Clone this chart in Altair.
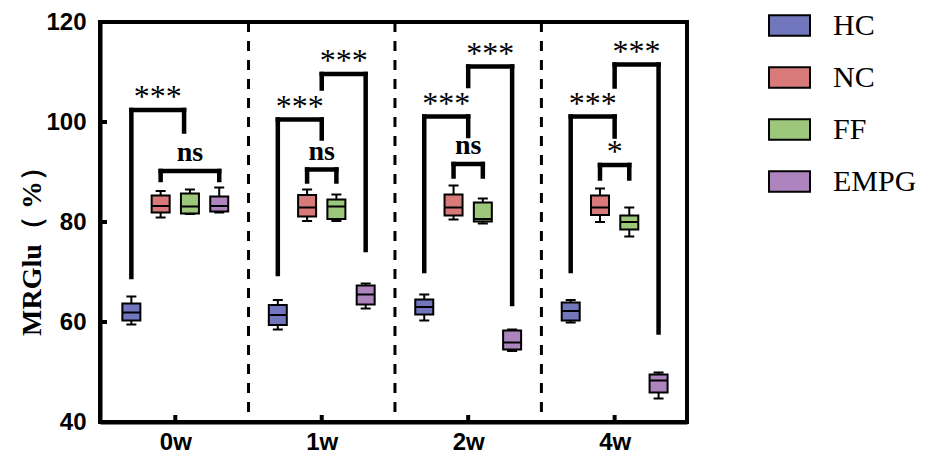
import json
import altair as alt
import pandas as pd

# ---------------- data ----------------
weeks = ["0w", "1w", "2w", "4w"]
groups = ["HC", "NC", "FF", "EMPG"]
colors = ["#7276BC", "#D87A7A", "#9DC77B", "#AD84BE"]
y_ticks = [40, 60, 80, 100, 120]

hc_max = [65.1, 64.4, 65.5, 64.4]
hc_q3 = [63.7, 63.4, 64.5, 63.9]
hc_med = [61.9, 61.4, 63.0, 62.2]
hc_q1 = [60.3, 59.4, 61.5, 60.3]
hc_min = [59.5, 58.5, 60.3, 59.9]

nc_max = [86.2, 86.5, 87.3, 86.7]
nc_q3 = [85.3, 85.4, 85.5, 85.3]
nc_med = [83.2, 82.9, 82.9, 82.9]
nc_q1 = [81.9, 81.1, 81.3, 81.4]
nc_min = [80.9, 80.2, 80.5, 80.0]

ff_max = [86.5, 85.5, 84.7, 82.9]
ff_q3 = [85.7, 84.5, 83.9, 81.3]
ff_med = [83.1, 83.1, 80.6, 80.0]
ff_q1 = [81.7, 80.6, 80.1, 78.5]
ff_min = [81.6, 80.2, 79.7, 77.1]

empg_max = [86.9, 67.7, 58.5, 49.9]
empg_q3 = [85.1, 67.3, 58.3, 49.5]
empg_med = [83.2, 65.5, 55.9, 48.3]
empg_q1 = [82.1, 63.5, 54.5, 45.9]
empg_min = [81.9, 62.7, 54.2, 44.7]

# significance brackets: week, from-series index, to-series index (fractional = between boxes)
br_week = ["0w", "0w", "1w", "1w", "1w", "2w", "2w", "2w", "4w", "4w", "4w"]
br_from = [0, 1, 0, 1.5, 1, 0, 1.5, 1, 0, 1.5, 1]
br_to = [1.8, 3, 1.5, 3, 2, 1.5, 3, 2, 1.5, 3, 2]
br_top = [102.4, 90.2, 100.5, 109.6, 90.5, 101.1, 111.1, 91.6, 101.1, 111.5, 91.4]
br_left_end = [69.0, 88.4, 69.6, 106.7, 88.1, 70.2, 107.2, 89.1, 70.2, 107.1, 88.7]
br_right_end = [98.1, 88.4, 96.7, 74.4, 88.1, 97.2, 63.6, 89.1, 97.1, 57.9, 88.7]
br_label = ["***", "ns", "***", "***", "ns", "***", "***", "ns", "***", "***", "*"]

# ---------------- tables ----------------
stats = {
    "HC": (hc_min, hc_q1, hc_med, hc_q3, hc_max),
    "NC": (nc_min, nc_q1, nc_med, nc_q3, nc_max),
    "FF": (ff_min, ff_q1, ff_med, ff_q3, ff_max),
    "EMPG": (empg_min, empg_q1, empg_med, empg_q3, empg_max),
}
rows = []
for si, g in enumerate(groups):
    mn, q1, md, q3, mx = stats[g]
    for wi, w in enumerate(weeks):
        rows.append(dict(group=g, week=w, wi=wi, si=si, lo=mn[wi], q1=q1[wi],
                         med=md[wi], q3=q3[wi], hi=mx[wi]))
box_df = pd.DataFrame(rows)

br_df = pd.DataFrame(dict(wi=[weeks.index(w) for w in br_week], f=br_from, t=br_to,
                          top=br_top, lend=br_left_end, rend=br_right_end, label=br_label))
week_df = pd.DataFrame(dict(wi=list(range(len(weeks)))))
sep_df = pd.DataFrame(dict(wi=list(range(len(weeks) - 1))))
ytick_df = pd.DataFrame(dict(v=y_ticks))

GROUP_STEP = 5  # slot units between week centres
OFFSET = (len(groups) - 1) / 2

x_scale = alt.Scale(domain=[-2.4, 17.3], nice=False, zero=False)
y_scale = alt.Scale(domain=[40, 120], nice=False, zero=False)

x_axis = alt.Axis(values=[i * GROUP_STEP for i in range(len(weeks))],
                  labelExpr=f"{json.dumps(weeks)}[round(datum.value / {GROUP_STEP})]",
                  title=None, ticks=False, tickSize=0, grid=False,
                  domainWidth=4, domainColor="black",
                  labelFont="Liberation Sans", labelFontWeight="bold",
                  labelFontSize=24, labelColor="black", labelPadding=8)
y_axis = alt.Axis(values=y_ticks, title="MRGlu（ %）",
                  titleFont="Liberation Serif", titleFontWeight="bold", titleFontSize=28,
                  titleColor="black", titleAngle=270, titleX=-60, titleY=222,
                  titleBaseline="alphabetic", titleAlign="center",
                  ticks=False, tickSize=0, grid=False,
                  domainWidth=4, domainColor="black",
                  labelFont="Liberation Sans", labelFontWeight="bold",
                  labelFontSize=24, labelColor="black", labelPadding=14)


def X(field):
    return alt.X(field, type="quantitative", scale=x_scale, axis=x_axis)


def Y(field):
    return alt.Y(field, type="quantitative", scale=y_scale, axis=y_axis)


base = alt.Chart(box_df).transform_calculate(
    pos=f"datum.wi * {GROUP_STEP} + datum.si - {OFFSET}")

whisk = base.mark_rule(color="black", strokeWidth=2).encode(x=X("pos"), y=Y("lo"), y2="hi")
box = base.mark_bar(size=18, stroke="black", strokeWidth=2, opacity=1).encode(
    x=X("pos"), y=Y("q1"), y2="q3",
    color=alt.Color("group:N", scale=alt.Scale(domain=groups, range=colors),
                    legend=alt.Legend(orient="none", legendX=668, legendY=-18, title=None,
                                      symbolType="M-1,-0.5H1V0.5H-1Z", symbolSize=1681,
                                      symbolStrokeColor="black", symbolStrokeWidth=2,
                                      symbolOpacity=1,
                                      labelFont="Liberation Serif", labelFontSize=30,
                                      labelColor="black", labelOffset=22,
                                      rowPadding=15, padding=0)))
med = base.mark_tick(orient="horizontal", size=18, thickness=2, color="black",
                     opacity=1).encode(x=X("pos"), y=Y("med"))
cap_hi = base.mark_tick(orient="horizontal", size=10, thickness=2, color="black",
                        opacity=1).encode(x=X("pos"), y=Y("hi"))
cap_lo = base.mark_tick(orient="horizontal", size=10, thickness=2, color="black",
                        opacity=1).encode(x=X("pos"), y=Y("lo"))

brb = alt.Chart(br_df).transform_calculate(
    x1=f"datum.wi * {GROUP_STEP} + datum.f - {OFFSET}",
    x2=f"datum.wi * {GROUP_STEP} + datum.t - {OFFSET}",
).transform_calculate(xm="(datum.x1 + datum.x2) / 2")

line_kw = dict(color="black", strokeWidth=4.5, strokeCap="square")
br_left = brb.mark_rule(**line_kw).encode(x=X("x1"), y=Y("top"), y2="lend")
br_h = brb.mark_rule(**line_kw).encode(x=X("x1"), x2="x2", y=Y("top"))
br_right = brb.mark_rule(**line_kw).encode(x=X("x2"), y=Y("top"), y2="rend")

star_txt = brb.transform_filter("datum.label != 'ns'").mark_text(
    font="Liberation Serif", fontSize=32, baseline="alphabetic", dy=-3, color="black"
).encode(x=X("xm"), y=Y("top"), text="label:N")
ns_txt = brb.transform_filter("datum.label == 'ns'").mark_text(
    font="Liberation Serif", fontSize=28, fontWeight="bold", baseline="alphabetic",
    dy=-10, color="black"
).encode(x=X("xm"), y=Y("top"), text="label:N")

seps = alt.Chart(sep_df).transform_calculate(
    xs=f"datum.wi * {GROUP_STEP} + {GROUP_STEP / 2}"
).mark_rule(color="black", strokeWidth=3, strokeDash=[10, 9]).encode(
    x=X("xs"), y=alt.value(0), y2=alt.value(400))

xticks = alt.Chart(week_df).transform_calculate(
    xc=f"datum.wi * {GROUP_STEP}"
).mark_rule(color="black", strokeWidth=4).encode(
    x=X("xc"), y=alt.value(400), y2=alt.value(393))

yticks = alt.Chart(ytick_df).mark_rule(color="black", strokeWidth=4).encode(
    y=Y("v"), x=alt.value(0), x2=alt.value(7))

chart = alt.layer(
    seps, xticks, yticks, whisk, box, med, cap_hi, cap_lo,
    br_left, br_h, br_right, star_txt, ns_txt
).properties(
    width=587, height=400,
    autosize=alt.AutoSizeParams(type="none"),
    padding={"left": 92, "top": 14, "right": 230, "bottom": 35},
).configure_view(stroke="black", strokeWidth=4)

chart.save("out.html", embed_options={"renderer": "svg", "actions": False})
